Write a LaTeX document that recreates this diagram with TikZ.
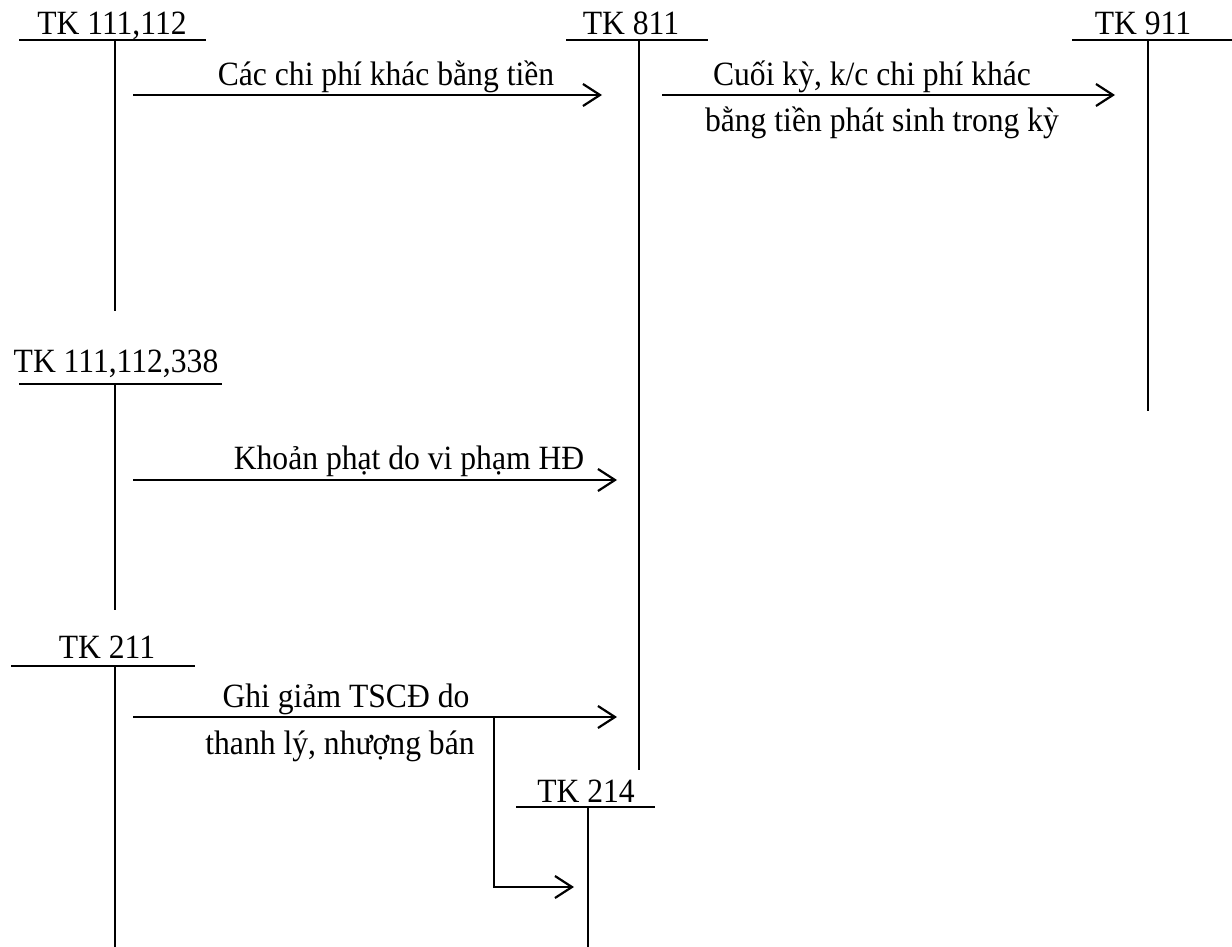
\documentclass[tikz,border=0pt]{standalone}
\usepackage{fontspec}
\setmainfont{Liberation Serif}[FakeStretch=0.93]
\usetikzlibrary{arrows.meta}
\begin{document}
\begin{tikzpicture}[x=1pt,y=-1pt,
  lbl/.style={font=\fontsize{34}{40}\selectfont, inner sep=0pt, anchor=base},
  acct/.style={line width=2pt},
  flow/.style={line width=2.2pt, -{Straight Barb[length=17pt,width=22pt]}}]
\useasboundingbox (0,0) rectangle (1232,947);
% account headers
\node[lbl] (h1) at (112,35) {TK 111,112};
\node[lbl] (h2) at (631,35) {TK 811};
\node[lbl] (h3) at (1143,35) {TK 911};
\node[lbl] (h4) at (116,372) {TK 111,112,338};
\node[lbl] (h5) at (107,658) {TK 211};
\node[lbl] (h6) at (586,802) {TK 214};
% T-account lines
\coordinate (a1l) at (19,40);   \coordinate (a1r) at (206,40);
\coordinate (a1t) at (115,40);  \coordinate (a1b) at (115,311);
\coordinate (a2l) at (566,40);  \coordinate (a2r) at (708,40);
\coordinate (a2t) at (639,40);  \coordinate (a2b) at (639,770);
\coordinate (a3l) at (1072,40); \coordinate (a3r) at (1232,40);
\coordinate (a3t) at (1148,40); \coordinate (a3b) at (1148,411);
\coordinate (a4l) at (19,384);  \coordinate (a4r) at (222,384);
\coordinate (a4t) at (115,384); \coordinate (a4b) at (115,610);
\coordinate (a5l) at (11,666);  \coordinate (a5r) at (195,666);
\coordinate (a5t) at (115,666); \coordinate (a5b) at (115,947);
\coordinate (a6l) at (516,807); \coordinate (a6r) at (655,807);
\coordinate (a6t) at (588,807); \coordinate (a6b) at (588,947);
\foreach \i in {1,...,6}{
  \draw[acct] (a\i l) -- (a\i r);
  \draw[acct] (a\i t) -- (a\i b);
}
% flows
\coordinate (s1) at (133,95);  \coordinate (e1) at (602,95);
\coordinate (s2) at (662,95);  \coordinate (e2) at (1115,95);
\coordinate (s3) at (133,480); \coordinate (e3) at (617,480);
\coordinate (s4) at (133,717); \coordinate (e4) at (617,717);
\coordinate (b4) at (494,717); \coordinate (e5) at (574,887);
\draw[flow] (s1) -- (e1);
\draw[flow] (s2) -- (e2);
\draw[flow] (s3) -- (e3);
\draw[flow] (s4) -- (e4);
\draw[flow] (b4) |- (e5);
% labels
\node[lbl] (l1) at (386,86) {Các chi phí khác bằng tiền};
\node[lbl] (l2a) at (872,86) {Cuối kỳ, k/c chi phí khác};
\node[lbl] (l2b) at (882,132) {bằng tiền phát sinh trong kỳ};
\node[lbl] (l3) at (409,469) {Khoản phạt do vi phạm HĐ};
\node[lbl] (l4a) at (346,707) {Ghi giảm TSCĐ do};
\node[lbl] (l4b) at (340,754) {thanh lý, nhượng bán};
\end{tikzpicture}
\end{document}
